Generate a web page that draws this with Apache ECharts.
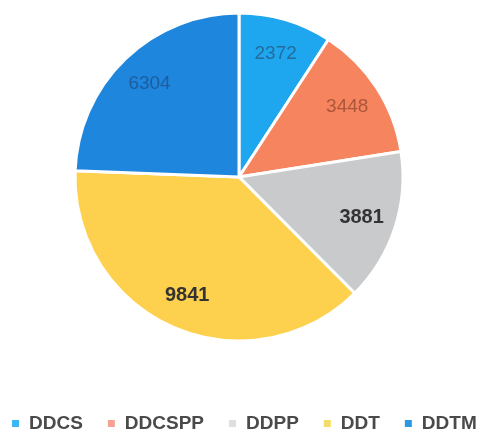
<!DOCTYPE html>
<html><head><meta charset="utf-8">
<script src="https://cdn.jsdelivr.net/npm/echarts@6/dist/echarts.min.js"></script>
<style>html,body{margin:0;padding:0;background:#fff}#c{width:481px;height:432px}</style>
</head><body><div id="c"></div>
<script>
const categories = ['DDCS', 'DDCSPP', 'DDPP', 'DDT', 'DDTM'];
const values = [2372, 3448, 3881, 9841, 6304];
const colors = ['#1EA6EE', '#F5845F', '#C9CACC', '#FDD04E', '#1F86DE'];
const legendColors = ['#3DB8F7', '#F7A393', '#DDDFE1', '#F3DC6A', '#2E98E6'];
const labelColors = ['rgba(40,60,90,0.55)', 'rgba(110,50,30,0.55)', '#333', '#333', 'rgba(30,50,90,0.5)'];
const labelWeights = ['normal', 'normal', 'bold', 'bold', 'normal'];

const chart = echarts.init(document.getElementById('c'));
const data = categories.map((n, i) => ({ name: n, value: values[i], itemStyle: { color: colors[i] } }));
chart.setOption({
  animation: false,
  legend: {
    top: 409, left: 10, width: 471, padding: [5, 0, 5, 0],
    icon: 'rect', itemWidth: 9, itemHeight: 9, itemGap: 23,
    textStyle: { fontFamily: 'Liberation Sans', fontWeight: 'bold', fontSize: 19, color: '#4a4a4a', padding: [0,0,0,4] },
    data: categories.map((n, i) => ({ name: n, itemStyle: { color: legendColors[i] } }))
  },
  series: [
    {
      type: 'pie', center: [239, 177], radius: 164, startAngle: 90, clockwise: true,
      label: { show: false }, labelLine: { show: false },
      itemStyle: { borderColor: '#fff', borderWidth: 3 },
      emphasis: { disabled: true },
      data: data
    },
    {
      type: 'pie', center: [239, 177], radius: [88, 164], startAngle: 90, clockwise: true,
      silent: true, legendHoverLink: false,
      itemStyle: { color: 'rgba(0,0,0,0)', borderWidth: 0 },
      label: { show: true, position: 'inside', formatter: '{c}', fontFamily: 'Liberation Sans', fontWeight: 'bold', fontSize: 20, color: '#333' },
      labelLine: { show: false },
      emphasis: { disabled: true },
      data: categories.map((n, i) => ({ name: n + ' ', value: values[i],
        label: { color: labelColors[i], fontWeight: labelWeights[i], fontSize: labelWeights[i] === 'bold' ? 20 : 19 } }))
    }
  ]
});
</script></body></html>
